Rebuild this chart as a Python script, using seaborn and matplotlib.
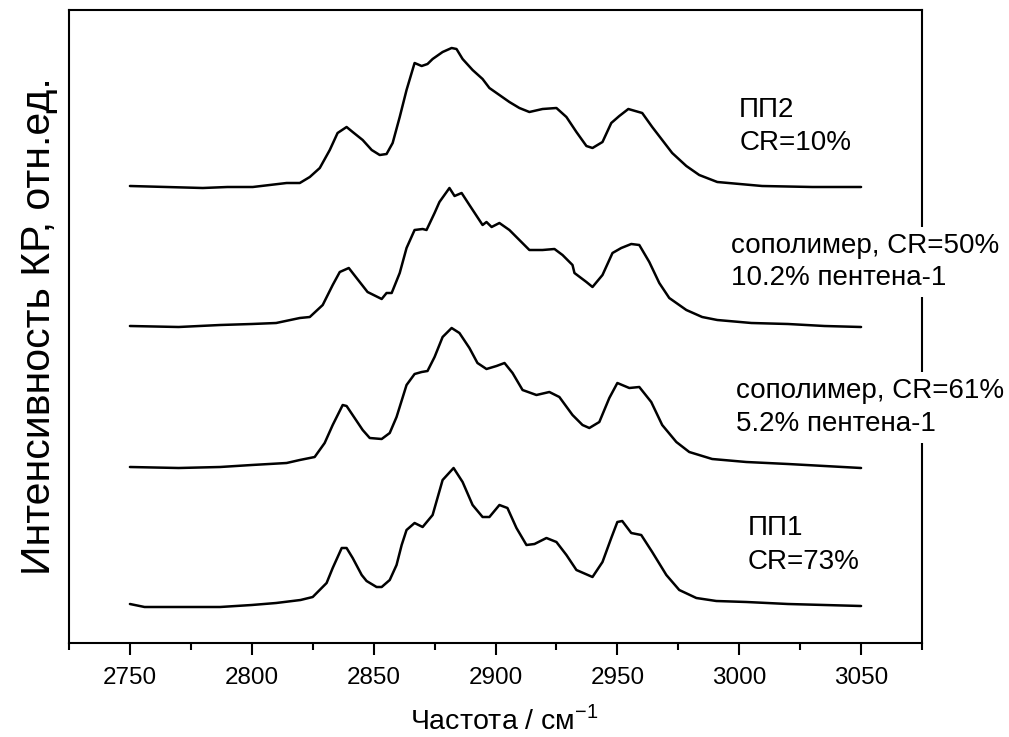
import numpy as np
import pandas as pd
import seaborn as sns
import matplotlib
matplotlib.use("Agg")
import matplotlib.pyplot as plt

# ---- data (wavenumber, cm^-1 ; Raman intensity, arb. units, stacked) ----
wn_pp1 = [2750, 2756, 2770, 2787, 2800, 2810, 2820, 2825, 2830.7, 2833.2, 2836.9, 2838.9, 2841.4, 2845.1,
          2847.1, 2851.2, 2853.3, 2856.6, 2859.4, 2861.5, 2863.5, 2866.8, 2870.1, 2874.2, 2878.3,
          2882.8, 2886.5, 2890.6, 2894.7, 2897.5, 2901.6, 2904.9, 2908.6, 2912.7, 2916, 2920.9,
          2925, 2929.1, 2933.2, 2939.8, 2943.9, 2947.5, 2950, 2952, 2955.7, 2959.8, 2964.3,
          2970.1, 2975.4, 2982.4, 2990.6, 3003, 3020, 3035, 3050]
int_pp1 = [39, 36, 36, 36, 38, 40, 43, 46, 60, 75, 95, 95, 85, 68,
           62, 56, 56, 63, 78, 98, 113, 120, 116, 128, 163,
           175, 161, 138, 126, 126, 138, 135, 115, 98, 99, 105,
           101, 88, 73, 66, 81, 105, 121, 122, 110, 108, 91,
           68, 53, 45, 42, 41, 39, 38, 37]

wn_cop61 = [2750, 2770, 2787, 2800, 2814.3, 2819.7, 2825.8, 2829.9, 2833.2, 2837.3, 2838.9, 2842.2,
            2845.5, 2848.4, 2853.3, 2856.6, 2859.4, 2863.5, 2866.8, 2869.7, 2872.1, 2875, 2878.3,
            2882, 2885.2, 2889.3, 2892.6, 2896.3, 2900.4, 2903.7, 2907, 2911.1, 2916.8, 2922.1,
            2926.2, 2931.6, 2935.7, 2938.5, 2942.6, 2946.7, 2950, 2954.9, 2959, 2963.9, 2968.4,
            2974.2, 2979.5, 2988.9, 3002.9, 3020, 3035, 3050]
int_cop61 = [176, 175, 176, 178, 180, 183, 186, 200, 218, 238, 237, 225,
             213, 205, 204, 210, 226, 258, 269, 271, 272, 286, 306,
             315, 310, 295, 280, 274, 277, 280, 270, 253, 248, 251,
             246, 228, 218, 215, 221, 245, 260, 255, 256, 241, 218,
             201, 191, 184, 181, 179, 177, 175]

wn_cop50 = [2750, 2770, 2787, 2800, 2810, 2819.7, 2823.8, 2829.1, 2833.2, 2836.1, 2839.8, 2843,
            2847.5, 2853.3, 2855.3, 2857.4, 2860.7, 2863.5, 2866.8, 2870.1, 2871.7, 2875, 2877,
            2881.1, 2883.2, 2886.1, 2889.3, 2894.7, 2896.3, 2898.4, 2901.6, 2905.7, 2909.8,
            2913.9, 2919.3, 2924.2, 2927.5, 2931.6, 2932.4, 2937.3, 2939.8, 2943.9, 2948,
            2951.6, 2955.7, 2959, 2963.1, 2967.2, 2971.3, 2978.3, 2984.8, 2991, 3005, 3020,
            3035, 3050]
int_cop50 = [317, 316, 318, 319, 320, 325, 326, 338, 358, 371, 375, 365,
             351, 344, 350, 350, 370, 395, 413, 414, 413, 430, 441,
             455, 447, 450, 438, 418, 421, 416, 420, 413, 403,
             393, 393, 394, 388, 378, 370, 361, 356, 368, 390,
             395, 399, 398, 381, 360, 345, 333, 326, 323, 320, 319,
             317, 316]

wn_pp2 = [2750, 2765, 2779.9, 2790, 2800.4, 2814.3, 2819.7, 2823.8, 2827.9, 2832, 2835.2, 2838.9,
          2841.4, 2845.5, 2849.2, 2852.5, 2855.3, 2857.8, 2860.7, 2863.5, 2866.8, 2869.7, 2872.1,
          2874.2, 2878.3, 2882, 2884, 2886.5, 2890.6, 2894.7, 2897.5, 2901.6, 2905.7, 2909.8,
          2913.9, 2919.3, 2925, 2929.1, 2933.2, 2937.3, 2939.8, 2943.9, 2947.5, 2950.8, 2954.5,
          2960.2, 2964.3, 2968.4, 2972.5, 2978.3, 2983.6, 2991, 3009.4, 3030, 3050]
int_pp2 = [457, 456, 455, 456, 456, 460, 460, 466, 475, 493, 510, 516,
           511, 503, 493, 488, 489, 500, 526, 553, 580, 577, 579,
           584, 591, 595, 594, 584, 573, 564, 555, 548, 541, 535,
           531, 534, 535, 526, 511, 497, 495, 501, 520, 527, 534,
           530, 516, 503, 490, 477, 468, 461, 457, 456, 456]

series_names = ["ПП1", "сополимер 61%", "сополимер 50%", "ПП2"]
x_ticks = [2750, 2800, 2850, 2900, 2950, 3000, 3050]

labels_text = [
    ("ПП2", "CR=10%"),
    ("сополимер, CR=50%", "10.2% пентена-1"),
    ("сополимер, CR=61%", "5.2% пентена-1"),
    ("ПП1", "CR=73%"),
]

frames = []
for name, wn, it in zip(series_names,
                        [wn_pp1, wn_cop61, wn_cop50, wn_pp2],
                        [int_pp1, int_cop61, int_cop50, int_pp2]):
    frames.append(pd.DataFrame({"wn": wn, "I": it, "s": name}))
df = pd.concat(frames, ignore_index=True)

sns.set_style("white")
plt.rcParams["font.family"] = ["Liberation Sans", "DejaVu Sans"]
plt.rcParams["text.color"] = "black"
plt.rcParams["axes.labelcolor"] = "black"
plt.rcParams["xtick.color"] = "black"
plt.rcParams["xtick.labelcolor"] = "black"

fig = plt.figure(figsize=(10.09, 7.37), dpi=100)
ax = fig.add_axes([69 / 1009, 1 - 643 / 737, (922 - 69) / 1009, (643 - 10) / 737])

for name in series_names:
    sub = df[df["s"] == name]
    sns.lineplot(data=sub, x="wn", y="I", ax=ax, color="black", linewidth=1.8,
                 estimator=None, sort=False, legend=False)

ax.set_xlim(2725, 3075)
ax.set_ylim(0, 633)
ax.set_xticks(x_ticks)
ax.set_xticks(np.arange(2725, 3076, 50), minor=True)
ax.set_yticks([])
ax.tick_params(axis="x", which="major", direction="out", length=8.6, width=1.5,
               labelsize=17.5, pad=8.5, bottom=True, top=False, colors="black")
ax.tick_params(axis="x", which="minor", direction="out", length=5, width=1.5,
               bottom=True, top=False, colors="black")
for sp in ax.spines.values():
    sp.set_visible(True)
    sp.set_color("black")
    sp.set_linewidth(1.5)

ax.set_xlabel("Частота / см$^{\\mathregular{-1}}$", fontsize=20.5, color="black")
ax.xaxis.set_label_coords((504 - 69) / 853, -0.098, transform=ax.transAxes)
ax.xaxis.label.set_va("top")
ax.set_ylabel("Интенсивность КР, отн.ед.", fontsize=29.5, color="black")
ax.yaxis.set_label_coords(-(69 - 58) / 853, 0.5)

# label positions (wavenumber, intensity baseline of each line)
pos = [(3000.0, 526, 493), (2996.7, 390, 358), (2998.8, 245, 212), (3003.3, 108, 74)]
for (l1, l2), (xp, y1, y2) in zip(labels_text, pos):
    for txt, yy in ((l1, y1), (l2, y2)):
        ax.text(xp, yy, txt, fontsize=20, color="black", ha="left", va="baseline",
                clip_on=False, zorder=5,
                bbox=dict(facecolor="white", edgecolor="none", pad=4))

fig.savefig("out.png", dpi=100, facecolor="white")
